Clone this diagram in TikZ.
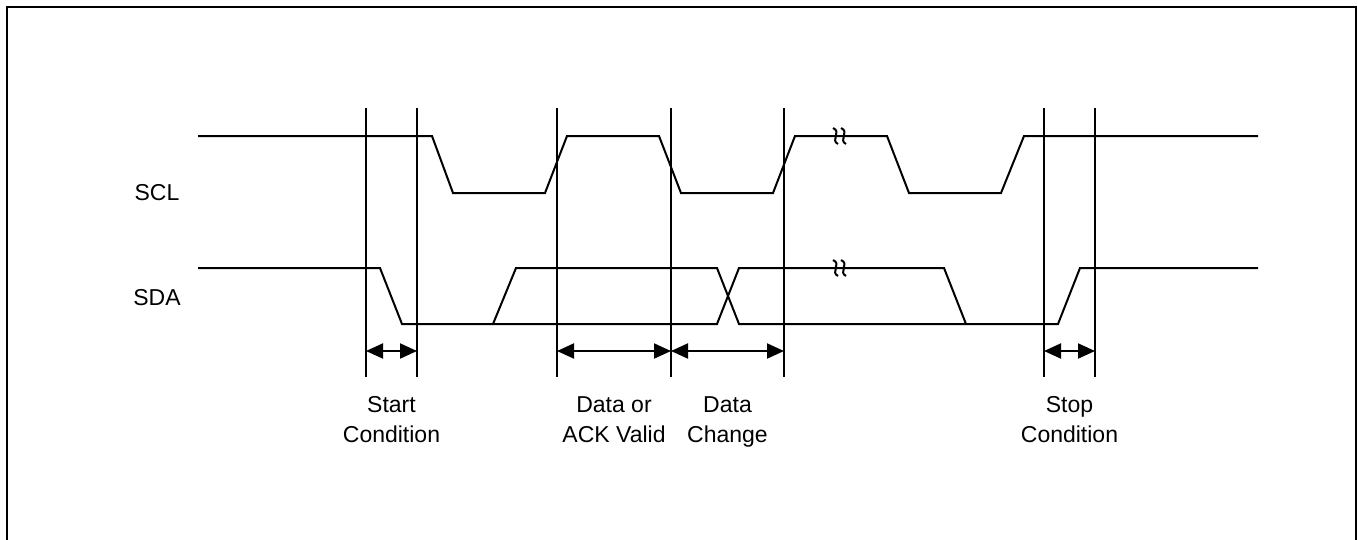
\documentclass[tikz,border=0pt]{standalone}
\usepackage{fontspec}
\setmainfont{Liberation Sans}
\tikzset{every picture/.style={/utils/exec={\fontsize{23}{30}\selectfont}}}
\usetikzlibrary{arrows.meta}
\usetikzlibrary{positioning}

\begin{document}
\begin{tikzpicture}[x=1pt, y=-1pt, line join=miter,
    timing/.style={line width=2pt},
    guide/.style={line width=2pt},
    dimarrow/.style={line width=2pt, {Triangle[length=17pt,width=15pt]}-{Triangle[length=17pt,width=15pt]}},
    caption/.style={anchor=north, align=center, inner sep=0pt},
    signame/.style={inner sep=0pt}]

  \useasboundingbox (0,0) rectangle (1358,539);
  \draw [line width=2.4pt] (7,560) -- (7,7) -- (1356,7) -- (1356,560);

  \node [signame] (scl) at (157,193) {SCL};
  \node [signame] (sda) at (157,298) {SDA};

  % SCL
  \draw [timing] (198,136) -- (432,136) -- (453,193) -- (545,193) -- (567,136) -- (659,136)
    -- (681,193) -- (773,193) -- (795,136) -- (887,136) -- (909,193) -- (1001,193)
    -- (1024,136) -- (1258,136);

  % SDA
  \draw [timing] (198,268) -- (380,268) -- (402,324) -- (717,324) -- (739,268) -- (944,268) -- (966,324);
  \draw [timing] (493,324) -- (516,268) -- (717,268) -- (739,324) -- (1058,324) -- (1080,268) -- (1258,268);

  % breaks
  \begin{scope}[line width=2pt]
    \draw (833,128) .. controls (842,132) and (830,140) .. (838,144);
    \draw (841,128) .. controls (850,132) and (838,140) .. (846,144);
    \draw (833,260) .. controls (842,264) and (830,272) .. (838,276);
    \draw (841,260) .. controls (850,264) and (838,272) .. (846,276);
  \end{scope}

  \draw [guide] (366,108) -- (366,377);
  \draw [guide] (417,108) -- (417,377);
  \draw [guide] (557,108) -- (557,377);
  \draw [guide] (671,108) -- (671,377);
  \draw [guide] (784,108) -- (784,377);
  \draw [guide] (1044,108) -- (1044,377);
  \draw [guide] (1095,108) -- (1095,377);

  \coordinate (startL) at (366,351);
  \coordinate (startR) at (417,351);
  \coordinate (validL) at (557,351);
  \coordinate (validR) at (671,351);
  \coordinate (changeR) at (784,351);
  \coordinate (stopL) at (1044,351);
  \coordinate (stopR) at (1095,351);

  \draw [dimarrow] (startL) -- (startR);
  \draw [dimarrow] (validL) -- (validR);
  \draw [dimarrow] (validR) -- (changeR);
  \draw [dimarrow] (stopL) -- (stopR);

  \node [caption] (start) at (391.5,396) {Start\\Condition};
  \node [caption] (valid) at (614,396) {Data or\\ACK Valid};
  \node [caption] (change) at (727.5,396) {Data\\Change};
  \node [caption] (stop) at (1069.5,396) {Stop\\Condition};

\end{tikzpicture}
\end{document}
